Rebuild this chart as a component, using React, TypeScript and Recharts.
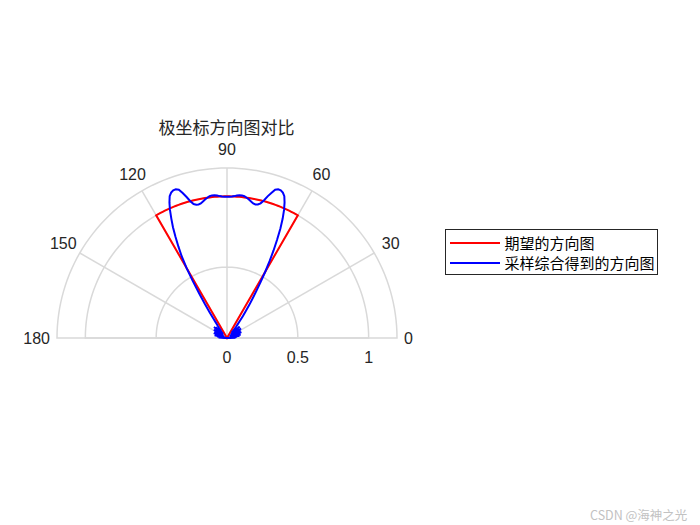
import React from 'react';
import { RadarChart, Radar, PolarGrid, PolarAngleAxis, PolarRadiusAxis, Legend } from 'recharts';

// sample angles (deg) — coarse in the sidelobe region, 1 deg around the main lobe
const anglesLow = [0, 2, 4, 6, 8, 10, 12, 14, 16, 18, 20, 22, 24, 26, 28, 30, 32, 34, 36, 38, 40, 42, 44, 46, 48];
const anglesMain = [
  49, 50, 51, 52, 53, 54, 55, 56, 57, 58, 59, 60, 61, 62, 63, 64, 65, 66, 67, 68, 69, 70,
  71, 72, 73, 74, 75, 76, 77, 78, 79, 80, 81, 82, 83, 84, 85, 86, 87, 88, 89, 90,
  91, 92, 93, 94, 95, 96, 97, 98, 99, 100, 101, 102, 103, 104, 105, 106, 107, 108, 109, 110,
  111, 112, 113, 114, 115, 116, 117, 118, 119, 120, 121, 122, 123, 124, 125, 126, 127, 128, 129, 130, 131,
];
const anglesHigh = [132, 134, 136, 138, 140, 142, 144, 146, 148, 150, 152, 154, 156, 158, 160, 162, 164, 166, 168, 170, 172, 174, 176, 178, 180];

// desired pattern (red)
const desiredLow = [0, 0, 0, 0, 0, 0, 0, 0, 0, 0, 0, 0, 0, 0, 0, 0, 0, 0, 0, 0, 0, 0, 0, 0, 0];
const desiredMain = [
  0, 0, 0, 0, 0, 0, 0, 0, 0, 0, 0, 1, 1, 1, 1, 1, 1, 1, 1, 1, 1, 1,
  1, 1, 1, 1, 1, 1, 1, 1, 1, 1, 1, 1, 1, 1, 1, 1, 1, 1, 1, 1,
  1, 1, 1, 1, 1, 1, 1, 1, 1, 1, 1, 1, 1, 1, 1, 1, 1, 1, 1, 1,
  1, 1, 1, 1, 1, 1, 1, 1, 1, 1, 0, 0, 0, 0, 0, 0, 0, 0, 0, 0, 0,
];
const desiredHigh = [0, 0, 0, 0, 0, 0, 0, 0, 0, 0, 0, 0, 0, 0, 0, 0, 0, 0, 0, 0, 0, 0, 0, 0, 0];

// sampled / synthesized pattern (blue)
const sampledLow = [0.02, 0.06, 0.01, 0.07, 0.02, 0.09, 0.03, 0.1, 0.02, 0.08, 0.03, 0.11, 0.04, 0.1, 0.02, 0.11, 0.05, 0.12, 0.03, 0.1, 0.05, 0.12, 0.04, 0.09, 0.06];
const sampledMain = [
  0.05, 0.08, 0.1, 0.12, 0.15, 0.19, 0.23, 0.28, 0.33, 0.39, 0.46, 0.54, 0.62, 0.7, 0.78, 0.86, 0.93, 0.99, 1.04, 1.08, 1.1, 1.11,
  1.11, 1.1, 1.07, 1.04, 1.005, 0.98, 0.967, 0.964, 0.968, 0.978, 0.99, 1.0, 1.008, 1.012, 1.012, 1.008, 1.003, 0.999, 0.997, 0.997,
  0.997, 0.999, 1.003, 1.008, 1.012, 1.012, 1.008, 1.0, 0.99, 0.978, 0.968, 0.964, 0.966, 0.975, 1.0, 1.035, 1.07, 1.1, 1.11, 1.11,
  1.1, 1.08, 1.04, 0.99, 0.93, 0.87, 0.8, 0.73, 0.66, 0.57, 0.47, 0.37, 0.29, 0.22, 0.17, 0.13, 0.11, 0.09, 0.07, 0.09, 0.06,
];
const sampledHigh = [0.09, 0.04, 0.11, 0.05, 0.12, 0.04, 0.1, 0.03, 0.11, 0.05, 0.1, 0.03, 0.09, 0.02, 0.1, 0.03, 0.08, 0.02, 0.09, 0.03, 0.07, 0.01, 0.06, 0.02, 0.03];

const angleTicks = [0, 30, 60, 90, 120, 150, 180];
const radiusTicks = [0, 0.5, 1];
const radiusGrid = [0.5, 1, 1.2];
const R_MAX = 1.2;

const data = [
  ...anglesLow.map((a, i) => ({ angle: a, desired: desiredLow[i], sampled: sampledLow[i] })),
  ...anglesMain.map((a, i) => ({ angle: a, desired: desiredMain[i], sampled: sampledMain[i] })),
  ...anglesHigh.map((a, i) => ({ angle: a, desired: desiredHigh[i], sampled: sampledHigh[i] })),
];

const CX = 227;
const CY = 338;
const OUTER = 170;
const TICK_FONT = '"Liberation Sans", Arial, sans-serif';
const CJK_FONT = '"Noto Sans CJK SC", sans-serif';

// grid arcs drawn as fine polygons over the half circle
const arcAngles = Array.from({ length: 91 }, (_, i) => i * 2);
const arcRadii = radiusGrid.map((v) => (v / R_MAX) * OUTER);

const AngleTick = (props: any) => {
  const { payload } = props;
  const deg = payload.coordinate;
  const rad = (deg * Math.PI) / 180;
  const c = Math.cos(rad);
  const horiz = Math.abs(c) > 0.99;
  const r = horiz ? 177 : 189;
  const x = CX + r * c;
  const y = CY - r * Math.sin(rad);
  return (
    <text
      x={x}
      y={y}
      textAnchor={horiz ? (c > 0 ? 'start' : 'end') : 'middle'}
      dominantBaseline="central"
      fontSize={16}
      fontFamily={TICK_FONT}
      fill="#262626"
    >
      {payload.value}
    </text>
  );
};

const RadiusTick = (props: any) => {
  const { x, y, payload } = props;
  return (
    <text x={x} y={y + 19} textAnchor="middle" dominantBaseline="central" fontSize={16} fontFamily={TICK_FONT} fill="#262626">
      {payload.value}
    </text>
  );
};

const LegendBox = (props: any) => {
  const { payload } = props;
  return (
    <div
      style={{
        boxSizing: 'border-box',
        width: 213,
        height: 46,
        border: '1.5px solid #262626',
        background: '#fff',
        paddingTop: 2.5,
      }}
    >
      {(payload || []).map((p: any) => (
        <div key={p.value} style={{ display: 'flex', alignItems: 'center', height: 20, overflow: 'hidden' }}>
          <span style={{ display: 'inline-block', flex: 'none', width: 50, height: 2, marginLeft: 3.5, background: p.color }} />
          <span style={{ marginLeft: 5, fontSize: 15, fontFamily: CJK_FONT, color: '#000', lineHeight: '18px', whiteSpace: 'nowrap' }}>
            {p.value}
          </span>
        </div>
      ))}
    </div>
  );
};

export default function App() {
  return (
    <div style={{ position: 'absolute', left: 0, top: 0, width: 700, height: 525, background: '#fff' }}>
      <div
        style={{
          position: 'absolute',
          left: 0,
          width: 453,
          top: 117,
          textAlign: 'center',
          fontSize: 17,
          lineHeight: '20px',
          fontFamily: CJK_FONT,
          color: '#262626',
        }}
      >
        极坐标方向图对比
      </div>
      <RadarChart
        width={700}
        height={525}
        data={data}
        cx={CX}
        cy={CY}
        innerRadius={0}
        outerRadius={OUTER}
        startAngle={0}
        endAngle={180}
        margin={{ top: 0, right: 0, bottom: 0, left: 0 }}
      >
        <PolarGrid gridType="polygon" radialLines={false} polarAngles={arcAngles} polarRadius={arcRadii} stroke="#d9d9d9" strokeWidth={1.5} />
        <PolarGrid gridType="polygon" polarAngles={angleTicks.slice(1, -1)} polarRadius={[]} stroke="#d9d9d9" strokeWidth={1.5} />
        <PolarAngleAxis
          dataKey="angle"
          type="number"
          domain={[0, 180]}
          ticks={angleTicks}
          tickCount={7}
          axisLine={false}
          tickLine={false}
          tick={AngleTick}
        />
        <PolarRadiusAxis
          angle={0}
          type="number"
          domain={[0, R_MAX]}
          ticks={radiusTicks}
          axisLine={false}
          tickLine={false}
          tick={RadiusTick}
        />
        <Radar
          name="期望的方向图"
          dataKey="desired"
          stroke="#ff0000"
          strokeWidth={2}
          fill="none"
          fillOpacity={0}
          dot={false}
          isAnimationActive={false}
        />
        <Radar
          name="采样综合得到的方向图"
          dataKey="sampled"
          stroke="#0000ff"
          strokeWidth={2}
          fill="none"
          fillOpacity={0}
          dot={false}
          isAnimationActive={false}
        />
        <Legend
          layout="horizontal"
          verticalAlign="bottom"
          content={LegendBox}
          wrapperStyle={{ left: 445, top: 229, bottom: 'auto', width: 213 }}
        />
      </RadarChart>
      <div
        style={{
          position: 'absolute',
          left: 590,
          top: 507,
          fontSize: 12.5,
          lineHeight: '16px',
          fontFamily: CJK_FONT,
          color: '#c2c2c2',
          whiteSpace: 'nowrap',
        }}
      >
        CSDN @海神之光
      </div>
    </div>
  );
}
